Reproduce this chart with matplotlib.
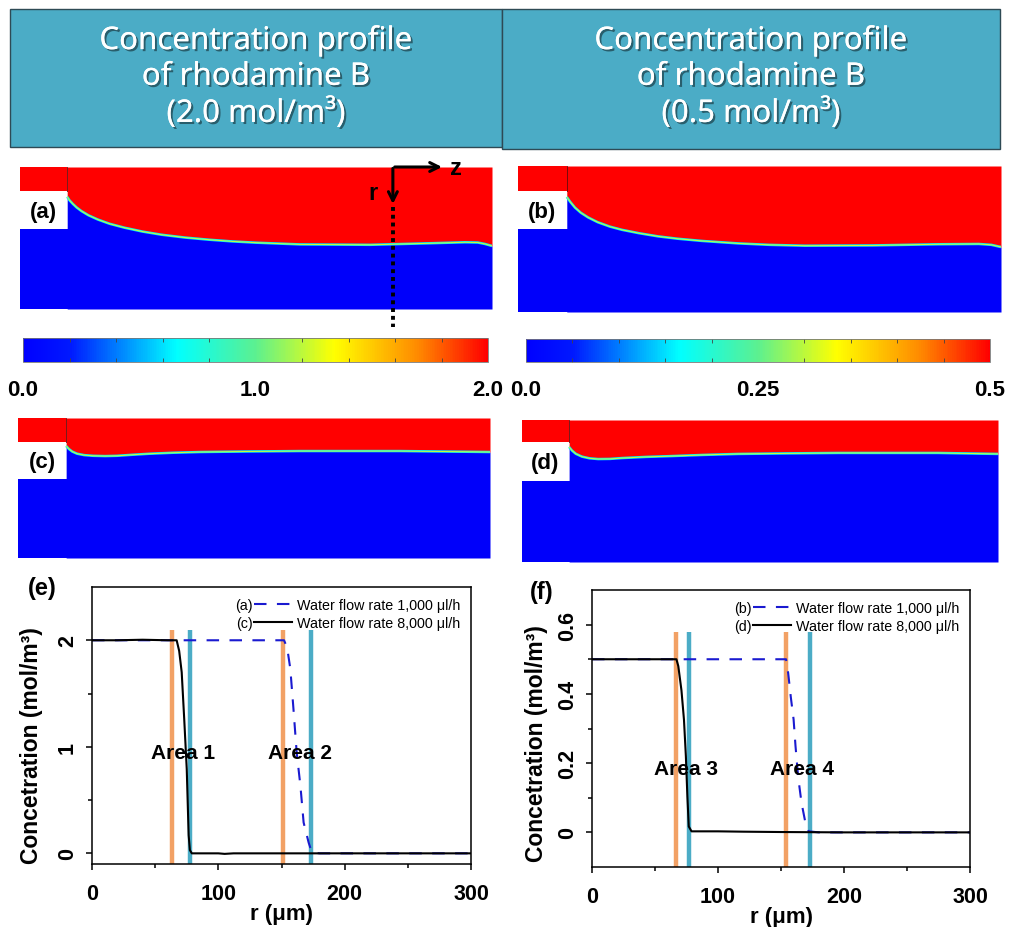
import numpy as np
import matplotlib
matplotlib.use("Agg")
import matplotlib.pyplot as plt
import matplotlib.patheffects as pe
from matplotlib.colors import LinearSegmentedColormap, Normalize
from matplotlib.cm import ScalarMappable
from matplotlib.patches import Rectangle

plt.rcParams['font.family'] = ['Liberation Sans', 'DejaVu Sans']

# ---------------------------------------------------------------
# datos
# ---------------------------------------------------------------
header_titles = ["Concentration profile\nof rhodamine B\n(2.0 mol/m\u00b3)",
                 "Concentration profile\nof rhodamine B\n(0.5 mol/m\u00b3)"]

# interfaz (z, r) normalizados al canal, r = 0 arriba
panel_names = ["(a)", "(b)", "(c)", "(d)"]
iface_z = [
    [0.10, 0.105, 0.112, 0.12, 0.13, 0.145, 0.165, 0.19, 0.222, 0.26, 0.30, 0.35, 0.40, 0.45,
     0.50, 0.593, 0.742, 0.869, 0.943, 0.97, 0.985, 1.0],
    [0.101, 0.108, 0.118, 0.13, 0.145, 0.165, 0.19, 0.215, 0.25, 0.29, 0.33, 0.38, 0.455, 0.52,
     0.594, 0.733, 0.870, 0.954, 0.98, 1.0],
    [0.102, 0.108, 0.115, 0.125, 0.14, 0.159, 0.185, 0.21, 0.245, 0.28, 0.33, 0.386, 0.49, 0.597,
     0.809, 1.0],
    [0.099, 0.105, 0.113, 0.126, 0.142, 0.16, 0.185, 0.21, 0.26, 0.315, 0.38, 0.454, 0.56, 0.664,
     0.874, 1.0],
]
iface_r = [
    [0.21, 0.235, 0.26, 0.285, 0.31, 0.34, 0.37, 0.40, 0.428, 0.455, 0.477, 0.497, 0.512, 0.524,
     0.533, 0.545, 0.548, 0.537, 0.530, 0.532, 0.542, 0.556],
    [0.212, 0.245, 0.285, 0.32, 0.352, 0.385, 0.415, 0.437, 0.46, 0.482, 0.498, 0.513, 0.530, 0.540,
     0.546, 0.544, 0.536, 0.534, 0.54, 0.555],
    [0.20, 0.222, 0.24, 0.255, 0.265, 0.27, 0.272, 0.27, 0.262, 0.255, 0.248, 0.243, 0.239, 0.236,
     0.236, 0.243],
    [0.19, 0.215, 0.238, 0.258, 0.27, 0.275, 0.274, 0.268, 0.26, 0.254, 0.246, 0.239, 0.235, 0.232,
     0.232, 0.239],
]
# geometria de la entrada: ancho, fondo de la franja roja, fondo de la muesca blanca
inlet_w = [0.10, 0.101, 0.102, 0.099]
strip_r = [0.17, 0.171, 0.171, 0.155]
notch_r = [0.437, 0.432, 0.436, 0.43]

cbar_max = [2.0, 0.5]
cbar_labels = [["0.0", "1.0", "2.0"], ["0.0", "0.25", "0.5"]]

# perfiles de concentracion (e)
e_black_r = [0, 20, 40, 60, 67, 69, 71, 73, 75, 76.5, 77.5, 79, 100, 105, 112, 150, 200, 250, 300]
e_black_c = [2.0, 2.0, 2.005, 2.0, 2.0, 1.9, 1.70, 1.26, 0.79, 0.17, 0.03, 0.0, 0.0, -0.005, 0.0, 0.0, 0.0, 0.0, 0.0]
e_blue_r = [0, 50, 100, 152, 154.5, 157, 159.5, 162, 165, 167.5, 171.5, 174, 180, 300]
e_blue_c = [2.0, 2.0, 2.0, 2.0, 1.93, 1.73, 1.35, 0.95, 0.63, 0.29, 0.10, 0.01, 0.0, 0.0]
e_orange = [63, 151]
e_teal = [77.5, 173.5]

# perfiles de concentracion (f)
f_black_r = [0, 30, 60, 67, 68.5, 71, 73, 74.5, 75.7, 76.8, 79, 100, 120, 150, 200, 250, 300]
f_black_c = [0.5, 0.5, 0.5, 0.5, 0.48, 0.41, 0.325, 0.22, 0.104, 0.017, 0.003, 0.003, 0.002, 0.001, 0.0, 0.0, 0.0]
f_blue_r = [0, 50, 100, 154, 155.7, 157.8, 160, 161.5, 163.6, 166.3, 169.7, 172, 180, 300]
f_blue_c = [0.5, 0.5, 0.5, 0.5, 0.46, 0.39, 0.326, 0.25, 0.16, 0.085, 0.022, 0.003, 0.0, 0.0]
f_orange = [66.5, 154]
f_teal = [77, 173]

ORANGE = "#F2A165"
TEAL = "#4BACC6"
RED = "#FF0000"
BLUE = "#0000FA"

cmap = LinearSegmentedColormap.from_list("comsol", [
    (0.0, "#0000FF"), (0.1, "#0018FF"), (0.33, "#00FFFF"), (0.5, "#5CF090"),
    (0.67, "#FFFF00"), (0.85, "#FF8A00"), (1.0, "#FF0000")])

fig = plt.figure(figsize=(10.1, 9.28), dpi=100)
W, H = 1010.0, 928.0


def px_axes(x0, y0, x1, y1):
    return fig.add_axes([x0 / W, 1 - y1 / H, (x1 - x0) / W, (y1 - y0) / H])


# ---------------------------------------------------------------
# cabecera
# ---------------------------------------------------------------
for (x0, y0, x1, y1), title in zip([(10, 10, 502, 148), (502, 10, 1000, 150)], header_titles):
    fig.patches.append(Rectangle((x0 / W, 1 - y1 / H), (x1 - x0) / W, (y1 - y0) / H,
                                 transform=fig.transFigure, facecolor="#4BACC6",
                                 edgecolor="#2E4A55", lw=1.0))
    fig.text((x0 + x1) / 2 / W, 1 - 78 / H, title, ha="center", va="center",
             color="white", fontsize=22.5, family=["Noto Sans", "DejaVu Sans"], linespacing=1.25,
             path_effects=[pe.withSimplePatchShadow(offset=(1.5, -1.5), shadow_rgbFace="k", alpha=0.45),
                           pe.Normal()])

# ---------------------------------------------------------------
# mapas de concentracion
# ---------------------------------------------------------------
panel_boxes = [(20, 168, 492, 310), (518, 167, 1001, 313), (18, 419, 490, 559), (522, 421, 998, 563)]
contour_axes = []
for i, box in enumerate(panel_boxes):
    ax = px_axes(*box)
    z = iface_z[i]
    r = iface_r[i]
    ax.fill_between([0, 1], notch_r[i], 1, color=BLUE, lw=0)
    ax.fill_between([0, inlet_w[i]], 0, strip_r[i], color=RED, lw=0)
    ax.fill_between(z, r, 1, color=BLUE, lw=0)
    ax.fill_between(z, 0, r, color=RED, lw=0)
    ax.plot(z, r, color="#00E8FF", lw=1.8, solid_capstyle="butt")
    ax.plot(z, r, color="#D0FF30", lw=0.7, solid_capstyle="butt")
    ax.plot([inlet_w[i], inlet_w[i]], [0, strip_r[i]], color="#600000", lw=0.6)
    ax.set_xlim(0, 1)
    ax.set_ylim(1, 0)
    ax.axis("off")
    ax.text(inlet_w[i] / 2, (strip_r[i] + notch_r[i]) / 2 + 0.01, panel_names[i], ha="center",
            va="center", fontsize=16, fontweight="bold")
    contour_axes.append(ax)

# ejes r-z y linea de corte en (a)
ax = contour_axes[0]
ax.annotate("", xy=(0.90, 0.0), xytext=(0.788, 0.0),
            arrowprops=dict(arrowstyle="->", lw=2.2, color="k", mutation_scale=16), annotation_clip=False)
ax.annotate("", xy=(0.79, 0.28), xytext=(0.79, -0.01),
            arrowprops=dict(arrowstyle="->", lw=2.2, color="k", mutation_scale=16), annotation_clip=False)
ax.plot([0.79, 0.79], [0.28, 1.13], color="k", lw=2.8, ls=(0, (1, 1)), clip_on=False)
ax.text(0.91, 0.0, "z", fontsize=17, fontweight="bold", ha="left", va="center")
ax.text(0.748, 0.18, "r", fontsize=17, fontweight="bold", ha="center", va="center")

# barras de color
for (x0, y0, x1, y1), vmax, labs in zip([(23, 339, 488, 363), (526, 340, 990, 363)], cbar_max, cbar_labels):
    cax = px_axes(x0, y0, x1, y1)
    sm = ScalarMappable(norm=Normalize(0, vmax), cmap=cmap)
    cb = fig.colorbar(sm, cax=cax, orientation="horizontal")
    cb.outline.set_edgecolor("#777777")
    cb.outline.set_linewidth(0.6)
    cb.set_ticks([0, vmax / 2, vmax], labels=labs)
    cax.xaxis.set_ticks(np.linspace(0, vmax, 11), minor=True)
    cax.tick_params(axis="x", which="major", length=0, pad=12, labelsize=16)
    cax.tick_params(axis="x", which="minor", direction="in", length=3, width=0.6,
                    color="#444444", top=True, bottom=True)
    for t in cax.get_xticklabels():
        t.set_fontweight("bold")

# ---------------------------------------------------------------
# perfiles (e) y (f)
# ---------------------------------------------------------------
line_sets = [
    dict(box=(92, 588, 471, 865), br=e_black_r, bc=e_black_c, ur=e_blue_r, uc=e_blue_c,
         orange=e_orange, teal=e_teal, ylim=(-0.1, 2.5), vtop=2.1, major=[0, 1, 2], minor=[0.5, 1.5],
         ylabs=["0", "1", "2"], names=("(a)", "(c)"), tag="(e)", areas=("Area 1", "Area 2"),
         area_x=(72, 165), area_y=0.95, ylab_pos=(-0.13, 0.43)),
    dict(box=(592, 591, 970, 868), br=f_black_r, bc=f_black_c, ur=f_blue_r, uc=f_blue_c,
         orange=f_orange, teal=f_teal, ylim=(-0.1, 0.7), vtop=0.58, major=[0, 0.2, 0.4, 0.6],
         minor=[0.1, 0.3, 0.5], ylabs=["0", "0.2", "0.4", "0.6"], names=("(b)", "(d)"), tag="(f)",
         areas=("Area 3", "Area 4"), area_x=(75, 167), area_y=0.185, ylab_pos=(-0.117, 0.448)),
]

legends = []
for s in line_sets:
    ax = px_axes(*s["box"])
    ax.vlines(s["orange"], s["ylim"][0], s["vtop"], color=ORANGE, lw=3.2, zorder=1)
    ax.vlines(s["teal"], s["ylim"][0], s["vtop"], color=TEAL, lw=3.2, zorder=1)
    hb, = ax.plot(s["ur"], s["uc"], color="#1A1AD0", lw=1.5, ls=(0, (6, 5)), zorder=2)
    hk, = ax.plot(s["br"], s["bc"], color="k", lw=1.5, zorder=3)
    ax.set_xlim(0, 300)
    ax.set_ylim(*s["ylim"])
    ax.set_xticks([0, 100, 200, 300])
    ax.set_xticks([50, 150, 250], minor=True)
    ax.set_yticks(s["major"], labels=s["ylabs"])
    ax.set_yticks(s["minor"], minor=True)
    ax.tick_params(which="both", direction="out", width=1.1, labelsize=15.5)
    ax.tick_params(which="major", length=4)
    ax.tick_params(which="minor", length=3)
    ax.tick_params(axis="x", pad=10)
    ax.tick_params(axis="y", pad=6)
    for t in ax.get_xticklabels() + ax.get_yticklabels():
        t.set_fontweight("bold")
    for t in ax.get_yticklabels():
        t.set_rotation(90)
        t.set_va("center")
    for sp in ax.spines.values():
        sp.set_linewidth(1.1)
    ax.set_xlabel("r (\u03bcm)", fontsize=16, fontweight="bold", labelpad=-1)
    ax.set_ylabel("Concetration (mol/m\u00b3)", fontsize=16.5, fontweight="bold")
    ax.yaxis.set_label_coords(*s["ylab_pos"])

    leg = ax.legend([hb, hk], ["Water flow rate 1,000 \u03bcl/h", "Water flow rate 8,000 \u03bcl/h"],
                    loc="upper right", frameon=False, handlelength=2.65, handletextpad=0.35,
                    labelspacing=0.3, borderaxespad=0.35, prop=dict(size=10.3))
    legends.append((leg, s["names"]))
    for name, ax_x in zip(s["areas"], s["area_x"]):
        ax.text(ax_x, s["area_y"], name, ha="center", va="center", fontsize=15,
                fontweight="bold", zorder=4)
    x0, y0, x1, y1 = s["box"]
    fig.text((x0 - 50) / W, 1 - (y0 + 1) / H, s["tag"], ha="center", va="center",
             fontsize=17, fontweight="bold")

# etiquetas (a)/(c) y (b)/(d) delante de cada muestra de la leyenda
fig.canvas.draw()
renderer = fig.canvas.get_renderer()
inv = fig.transFigure.inverted()
for leg, names in legends:
    for txt, handle, name in zip(leg.get_texts(), leg.legend_handles, names):
        tb = txt.get_window_extent(renderer)
        hb = handle.get_window_extent(renderer)
        fx, fy = inv.transform((hb.x0 - 1, (tb.y0 + tb.y1) / 2))
        fig.text(fx, fy, name, ha="right", va="center", fontsize=10.3)

fig.savefig("out.png", dpi=100)
